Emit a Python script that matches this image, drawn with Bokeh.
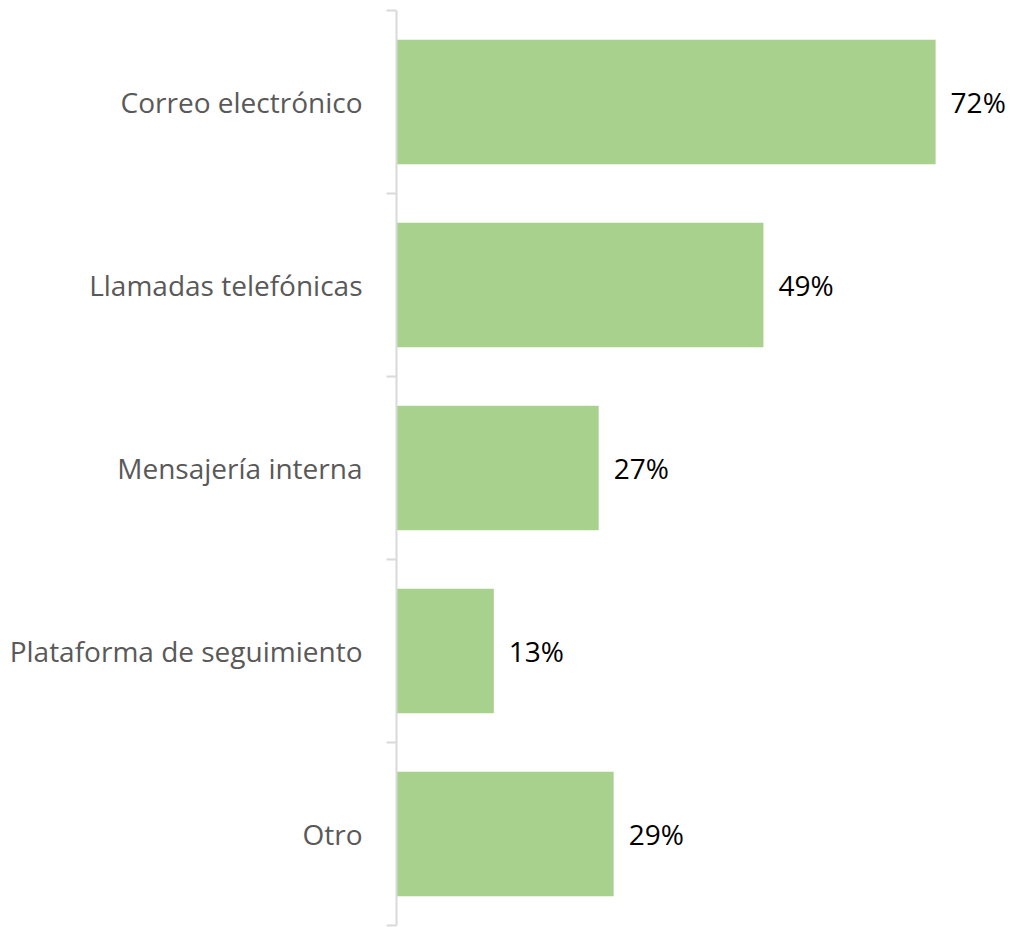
from bokeh.plotting import figure
from bokeh.models import (ColumnDataSource, Range1d, LinearAxis,
                          FixedTicker, LabelSet)
from bokeh.core.properties import value
from bokeh.embed import file_html
from bokeh.resources import INLINE

categories = ["Correo electrónico", "Llamadas telefónicas", "Mensajería interna",
              "Plataforma de seguimiento", "Otro"]
values = [72, 49, 27, 13, 29]
value_labels = ["72%", "49%", "27%", "13%", "29%"]

n = len(categories)
positions = [n - i - 0.5 for i in range(n)]

p = figure(width=1010, height=927, output_backend="svg", toolbar_location=None,
           x_range=Range1d(0, 82), y_range=Range1d(0, n),
           y_axis_location=None, x_axis_location=None,
           min_border_left=396, min_border_top=10, min_border_bottom=2,
           min_border_right=0)
p.outline_line_color = None
p.grid.grid_line_color = None
p.background_fill_color = "white"
p.border_fill_color = "white"

axis = LinearAxis(ticker=FixedTicker(ticks=positions, minor_ticks=list(range(n + 1))),
                  major_label_overrides={pos: c for pos, c in zip(positions, categories)},
                  axis_line_color="#d9d9d9", axis_line_width=2,
                  major_tick_line_color=None, major_tick_out=0, major_tick_in=0,
                  minor_tick_line_color="#d9d9d9", minor_tick_line_width=2,
                  minor_tick_out=10, minor_tick_in=0,
                  major_label_text_font="Open Sans",
                  major_label_text_font_size="28px",
                  major_label_text_color="#595959",
                  major_label_standoff=24)
p.add_layout(axis, "left")

src = ColumnDataSource(data=dict(pos=positions, val=values, lab=value_labels))
p.hbar(y="pos", right="val", left=0, height=0.68, source=src,
       fill_color="#a9d18e", line_color=None)

labels = LabelSet(x="val", y="pos", text="lab", source=src, x_offset=15,
                  text_align="left", text_baseline="middle",
                  text_font=value("Open Sans"), text_font_size="28px",
                  text_color="#000000")
p.add_layout(labels)

open("out.html", "w").write(file_html(p, INLINE))
